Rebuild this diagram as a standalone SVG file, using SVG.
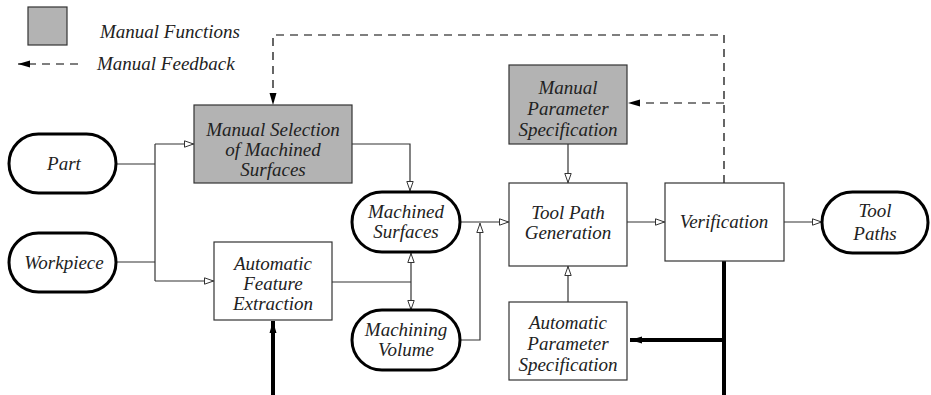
<svg xmlns="http://www.w3.org/2000/svg" width="931" height="395" viewBox="0 0 931 395">
<defs>
<marker id="open" viewBox="0 0 10 8" refX="10" refY="4" markerWidth="10" markerHeight="8" markerUnits="userSpaceOnUse" orient="auto">
<path d="M0.5,0.8 L9.5,4 L0.5,7.2 Z" fill="#fff" stroke="#333" stroke-width="1"/>
</marker>
<marker id="solid" viewBox="0 0 12 8" refX="12" refY="4" markerWidth="12" markerHeight="8" markerUnits="userSpaceOnUse" orient="auto">
<path d="M0,0.5 L12,4 L0,7.5 Z" fill="#000"/>
</marker>
</defs>
<style>
text{font-family:"Liberation Serif","Times New Roman",serif;font-style:italic;font-size:19px;fill:#222;text-anchor:middle}
.pill{fill:#fff;stroke:#000;stroke-width:3}
.box{fill:#fff;stroke:#333;stroke-width:1.2}
.man{fill:#b3b3b3;stroke:#333;stroke-width:1.2}
.ln{fill:none;stroke:#333;stroke-width:1.2}
.dash{fill:none;stroke:#000;stroke-width:1.2;stroke-dasharray:8 6}
.thick{fill:none;stroke:#000;stroke-width:4}
</style>
<rect width="931" height="395" fill="#fff"/>

<!-- legend -->
<g id="legend">
<rect class="man" x="28" y="7" width="39" height="38"/>
<text x="100" y="38" style="text-anchor:start">Manual Functions</text>
<line class="dash" x1="78" y1="64" x2="18" y2="64" marker-end="url(#solid)"/>
<text x="97" y="70" style="text-anchor:start">Manual Feedback</text>
</g>

<!-- connectors -->
<g id="connectors">
<path class="ln" d="M117,164 H155"/>
<path class="ln" d="M117,262 H155"/>
<path class="ln" d="M155,144 V281"/>
<path class="ln" d="M155,144 H194" marker-end="url(#open)"/>
<path class="ln" d="M155,281 H214" marker-end="url(#open)"/>
<path class="ln" d="M352,144 H410 V191" marker-end="url(#open)"/>
<path class="ln" d="M332,282 H411"/>
<path class="ln" d="M411,282 V253" marker-end="url(#open)"/>
<path class="ln" d="M411,282 V310" marker-end="url(#open)"/>
<path class="ln" d="M461,340 H480 V223" marker-end="url(#open)"/>
<path class="ln" d="M461,222 H509" marker-end="url(#open)"/>
<path class="ln" d="M568,144 V183" marker-end="url(#open)"/>
<path class="ln" d="M568,302 V266" marker-end="url(#open)"/>
<path class="ln" d="M627,222 H665" marker-end="url(#open)"/>
<path class="ln" d="M784,222 H822" marker-end="url(#open)"/>
<path class="dash" d="M724,183 V35 H273 V105" marker-end="url(#solid)"/>
<path class="dash" d="M724,103 H628" marker-end="url(#solid)"/>
<path class="thick" d="M724,261 V395"/>
<path class="thick" d="M724,340 H630" marker-end="url(#solid)" stroke-width="3"/>
<path class="thick" d="M273,395 V321" marker-end="url(#solid)" stroke-width="3"/>
</g>

<g id="part">
<rect class="pill" x="9" y="134" width="107" height="59" rx="29.5"/>
<text x="64" y="170">Part</text>
</g>
<g id="workpiece">
<rect class="pill" x="9" y="233" width="107" height="59" rx="29.5"/>
<text x="64" y="269">Workpiece</text>
</g>
<g id="manual-selection">
<rect class="man" x="194" y="105" width="158" height="78"/>
<text x="273" y="136">Manual Selection</text>
<text x="273" y="156">of Machined</text>
<text x="273" y="176">Surfaces</text>
</g>
<g id="feature-extraction">
<rect class="box" x="214" y="242" width="118" height="78"/>
<text x="273" y="270">Automatic</text>
<text x="273" y="290">Feature</text>
<text x="273" y="310">Extraction</text>
</g>
<g id="machined-surfaces">
<rect class="pill" x="352" y="192" width="108" height="60" rx="30"/>
<text x="406" y="218">Machined</text>
<text x="406" y="238">Surfaces</text>
</g>
<g id="machining-volume">
<rect class="pill" x="352" y="310" width="108" height="60" rx="30"/>
<text x="406" y="336">Machining</text>
<text x="406" y="356">Volume</text>
</g>
<g id="manual-parameter">
<rect class="man" x="509" y="65" width="118" height="79"/>
<text x="568" y="94">Manual</text>
<text x="568" y="115">Parameter</text>
<text x="568" y="136">Specification</text>
</g>
<g id="tool-path-generation">
<rect class="box" x="509" y="183" width="118" height="83"/>
<text x="568" y="219">Tool Path</text>
<text x="568" y="239">Generation</text>
</g>
<g id="automatic-parameter">
<rect class="box" x="509" y="302" width="118" height="78"/>
<text x="568" y="329">Automatic</text>
<text x="568" y="350">Parameter</text>
<text x="568" y="371">Specification</text>
</g>
<g id="verification">
<rect class="box" x="665" y="183" width="119" height="78"/>
<text x="724" y="228">Verification</text>
</g>
<g id="tool-paths">
<rect class="pill" x="822" y="192" width="106" height="61" rx="30.5"/>
<text x="875" y="217">Tool</text>
<text x="875" y="240">Paths</text>
</g>
</svg>
